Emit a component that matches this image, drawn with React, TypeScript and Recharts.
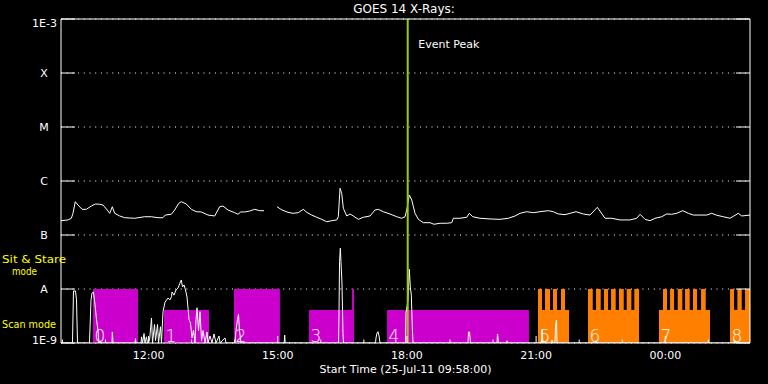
import React from 'react';
import { LineChart, Line, XAxis, YAxis, CartesianGrid, ReferenceArea, ReferenceLine, Label } from 'recharts';

// minutes since start time 25-Jul-11 09:58
const longTimes = [0, 9.8, 14.4, 16.7, 19.9, 23.7, 29.3, 35.3, 42.2, 47.8, 53.9, 58.5, 64.5, 67.9, 71.5, 74.8, 81.8, 88.8, 102.7, 116.6, 125.8, 135.2, 142.1, 145.3, 153.7, 158.4, 164, 167.6, 174.6, 181.6, 188.5, 195.5, 204.8, 214.2, 221.1, 225.7, 232.7, 242, 246.6, 250.4, 256, 262.9, 269.9, 276.9, 282.9, 290, 301, 307.9, 316.3, 323.3, 330.6, 337.6, 342.4, 349.3, 356.3, 363.3, 370.2, 377.2, 384.2, 386.4, 388.8, 391.1, 393.4, 398.1, 402.7, 407.3, 414.3, 421.2, 430.6, 437.5, 442.1, 449.1, 458.4, 467.8, 474.7, 479.3, 481.7, 485.3, 488.7, 493.3, 497.9, 504.8, 514.2, 519.7, 528.1, 537.4, 544.4, 546.6, 555.9, 565.3, 568.9, 573.7, 583.8, 597.8, 611.7, 623.3, 632.6, 639.6, 648.9, 658.1, 667.4, 679, 686, 693, 702.3, 709.2, 717.6, 727.8, 737.1, 747.3, 758, 767.3, 778.9, 792.8, 802.2, 806.8, 813.8, 820.7, 827.7, 837, 843.9, 850.9, 857.9, 866.3, 874.1, 881.1, 899.8, 906.7, 913.7, 922.8, 932.2, 943.7, 948.5, 960];
const longFlux = [1.84e-7, 1.9e-7, 2.04e-7, 2.52e-7, 4.14e-7, 3.59e-7, 2.99e-7, 2.99e-7, 3.44e-7, 3.75e-7, 3.71e-7, 3.59e-7, 2.9e-7, 2.52e-7, 3.34e-7, 2.52e-7, 2.25e-7, 2.09e-7, 2.04e-7, 2.18e-7, 2.18e-7, 2.09e-7, 2.09e-7, 2.34e-7, 2.42e-7, 2.9e-7, 3.86e-7, 4.14e-7, 3.75e-7, 2.99e-7, 2.7e-7, 2.67e-7, 2.34e-7, 2.25e-7, 3.34e-7, 3.44e-7, 2.9e-7, 2.59e-7, 2.42e-7, 2.67e-7, 2.67e-7, 2.78e-7, 2.99e-7, 2.82e-7, 2.82e-7, null, 3.34e-7, 2.9e-7, 2.63e-7, 2.52e-7, 2.59e-7, 2.99e-7, 2.63e-7, 2.34e-7, 2.13e-7, 1.95e-7, 1.76e-7, 1.84e-7, 1.9e-7, 2.18e-7, 7.33e-7, 5.91e-7, 3.12e-7, 2.25e-7, 2.45e-7, 2.25e-7, 1.95e-7, 2.13e-7, 2.25e-7, 2.9e-7, 2.99e-7, 2.7e-7, 2.45e-7, 2.18e-7, 2.04e-7, 2.18e-7, 2.9e-7, 5.51e-7, 4.45e-7, 2.52e-7, 1.95e-7, 1.69e-7, 1.69e-7, 1.58e-7, 1.65e-7, 1.65e-7, 1.69e-7, 2.04e-7, 2.04e-7, 2.13e-7, 2.52e-7, 2.18e-7, 2.04e-7, 1.98e-7, 1.95e-7, 2.04e-7, 2.25e-7, 2.52e-7, 2.7e-7, 2.59e-7, 2.7e-7, 2.82e-7, 2.7e-7, 2.45e-7, 2.38e-7, 2.52e-7, 2.7e-7, 2.45e-7, 2.34e-7, 3.26e-7, 2.04e-7, 2.04e-7, 1.9e-7, 1.9e-7, 2.04e-7, 2.42e-7, 1.95e-7, 1.84e-7, 2.04e-7, 2.18e-7, 2.45e-7, 2.42e-7, 2.52e-7, 2.82e-7, 2.52e-7, 2.34e-7, 2.34e-7, 2.52e-7, 2.32e-7, 2.18e-7, 2.04e-7, 2.52e-7, 2.25e-7, 2.34e-7];

const lowTimes = [0, 16, 17.4, 20.2, 21.6, 23, 39.7, 41.8, 43.2, 45.3, 47.4, 49.5, 51.6, 52.9, 54.3, 55.5, 71.1, 71.5, 72.5, 103.1, 103.8, 104.5, 111.5, 112.2, 113.6, 115.7, 117, 119.1, 120.5, 123.3, 126.1, 127.5, 130.3, 131.7, 134.5, 135.9, 138.6, 140, 142.1, 144.9, 149.1, 151.9, 154, 154.7, 157.5, 160.2, 163, 165.8, 167.6, 169.3, 171.4, 173.5, 175.6, 178.4, 180.4, 182.5, 184.6, 186.7, 188.1, 189.5, 191.6, 193.7, 195.8, 197.9, 200.7, 203.4, 204.8, 207.6, 210.4, 213.2, 216, 220.2, 221.6, 228.5, 229.9, 242.4, 243.8, 245.9, 247.3, 248.7, 250.8, 311, 311.7, 312.4, 386.7, 387.4, 388.1, 389.2, 390.1, 391.5, 392.9, 393.6, 438.2, 438.9, 440.3, 441.7, 443.1, 444.5, 480, 480.7, 483.5, 485.3, 486.7, 488.1, 489.5, 490.5, 567.1, 567.8, 569.2, 570.6, 607.5, 608.2, 609.6, 620.8, 621.5, 622.2, 669.5, 670.2, 671.6, 683.5, 684.2, 684.9, 688.3, 689, 690.4, 691.1, 744.8, 745.5, 746.2, 938.5, 939.2, 939.9, 960];
const lowFlux = [1e-9, 1e-9, 9.2e-9, 9.2e-9, 6.3e-9, 1e-9, 1e-9, 6.3e-9, 8.4e-9, 8.8e-9, 5.1e-9, 2.7e-9, 1.7e-9, 1e-9, 1.1e-9, 1e-9, 1e-9, 1.6e-9, 1e-9, 1e-9, 1.2e-9, 1e-9, 1e-9, 1.3e-9, 1e-9, 1.5e-9, 1e-9, 1.3e-9, 1e-9, 1.1e-9, 2.9e-9, 1e-9, 2.2e-9, 1.1e-9, 2.2e-9, 1e-9, 2e-9, 1e-9, 3.8e-9, 5.7e-9, 6.8e-9, 6.3e-9, 7.2e-9, 8.8e-9, 7.7e-9, 9.6e-9, 1.04e-8, 1.29e-8, 1.47e-8, 1.09e-8, 1.19e-8, 9.6e-9, 7.1e-9, 2.7e-9, 2.35e-9, 1.24e-9, 1.74e-9, 1e-9, 2.7e-9, 4.5e-9, 1.7e-9, 3.8e-9, 1.1e-9, 1.7e-9, 1e-9, 1.6e-9, 1e-9, 1.35e-9, 1e-9, 1.47e-9, 1e-9, 1.35e-9, 1e-9, 1.24e-9, 1e-9, 1e-9, 1.7e-9, 2.7e-9, 3.4e-9, 1.7e-9, 1e-9, 1e-9, 1.4e-9, 1e-9, 1e-9, 4.1e-9, 3.2e-8, 5.7e-8, 3.2e-8, 1.29e-8, 1.5e-9, 1e-9, 1e-9, 1.24e-9, 1.53e-9, 1.62e-9, 1.35e-9, 1e-9, 1e-9, 3.6e-9, 6.3e-9, 2.32e-8, 1.1e-8, 7.7e-9, 1.9e-9, 1e-9, 1e-9, 1.6e-9, 1.6e-9, 1e-9, 1e-9, 1.47e-9, 1e-9, 1e-9, 1.1e-9, 1e-9, 1e-9, 1.74e-9, 1e-9, 1e-9, 1.14e-9, 1e-9, 1e-9, 2.06e-9, 2.67e-9, 1e-9, 1e-9, 1.1e-9, 1e-9, 1e-9, 1.1e-9, 1e-9, 1e-9];

// observation blocks (minutes since start)
const blockIds = ['0', '1', '2', '3', '4', '5', '6', '7', '8'];
const blockStart = [44.6, 143.5, 241, 345.6, 454.3, 664.7, 734.3, 833.2, 932.2];
const blockEnd = [107.3, 206.2, 305, 408.3, 652, 707.9, 805.4, 904.3, 960];
const blockMode = ['stare', 'scan', 'stare', 'scan', 'scan', 'scan', 'scan', 'scan', 'scan'];
const blockInstr = ['a', 'a', 'a', 'a', 'a', 'b', 'b', 'b', 'b'];

// short sit & stare bursts inside scan blocks
const burstStart = [405.5, 664.6, 674.4, 685.5, 696.7, 734.3, 745.5, 756.6, 766.4, 777.5, 788.2, 798.8, 838.8, 848.6, 859.3, 869.5, 880.6, 891.8, 932.2, 942.4, 953.1];
const burstEnd = [408.3, 670.2, 681.4, 691.1, 702.3, 740.9, 752.0, 762.2, 772.9, 784.1, 794.7, 805.4, 844.4, 854.2, 865.7, 876.0, 886.2, 898.3, 937.8, 948.5, 960];
const burstInstr = ['a', 'b', 'b', 'b', 'b', 'b', 'b', 'b', 'b', 'b', 'b', 'b', 'b', 'b', 'b', 'b', 'b', 'b', 'b', 'b', 'b'];

const modeLevel: Record<string, number> = { scan: 4.1e-9, stare: 1e-8 };
const floorLevel = 1e-9;

const eventPeak = 483.1;

const levelTicks = [1e-9, 1e-8, 1e-7, 1e-6, 1e-5, 1e-4, 1e-3];
const levelNames = ['1E-9', 'A', 'B', 'C', 'M', 'X', '1E-3'];

const hourTicks = [2, 62, 122, 182, 242, 302, 362, 422, 482, 542, 602, 662, 722, 782, 842, 902];
const labelTicks = [122, 302, 482, 662, 842];
const labelText = ['12:00', '15:00', '18:00', '21:00', '00:00'];

const longData = longTimes.map((t, i) => ({ t, flux: longFlux[i] }));
const lowData = lowTimes.map((t, i) => ({ t, flux: lowFlux[i] }));

const WHITE = '#ffffff';
const instrColor: Record<string, string> = { a: '#cc00cc', b: '#ff8000' };

function LeftTick(props: any) {
  const { x, y, index } = props;
  const text = levelNames[index];
  const isNum = text.startsWith('1E');
  const dy = index === levelTicks.length - 1 ? 7.5 : index === 0 ? 1 : 4;
  return (
    <g>
      <line x1={x} x2={x + 14} y1={y} y2={y} stroke={WHITE} />
      <text x={isNum ? x - 4 : x - 17} y={y + dy} textAnchor={isNum ? 'end' : 'middle'} fill={WHITE} fontSize={11}>
        {text}
      </text>
    </g>
  );
}

function RightTick(props: any) {
  const { x, y } = props;
  return <line x1={x - 14} x2={x} y1={y} y2={y} stroke={WHITE} />;
}

function BottomTick(props: any) {
  const { x, y, payload } = props;
  const i = labelTicks.indexOf(payload.value);
  const len = i >= 0 ? 7 : 3.5;
  return (
    <g>
      <line x1={x} x2={x} y1={y} y2={y - len} stroke={WHITE} />
      {i >= 0 && (
        <text x={x} y={y + 16} textAnchor="middle" fill={WHITE} fontSize={11}>
          {labelText[i]}
        </text>
      )}
    </g>
  );
}

function TopTick(props: any) {
  const { x, y, payload } = props;
  const len = labelTicks.includes(payload.value) ? 7 : 3.5;
  return <line x1={x} x2={x} y1={y} y2={y + len} stroke={WHITE} />;
}

function PeakLabel(props: any) {
  const vb = props.viewBox || {};
  return (
    <text x={vb.x + 10.5} y={vb.y + 28.5} fill={WHITE} fontSize={11}>
      Event Peak
    </text>
  );
}

export default function App() {
  return (
    <div style={{ position: 'absolute', left: 0, top: 0, width: 768, height: 384, background: '#000', overflow: 'hidden' }}>
      <LineChart width={768} height={384} margin={{ top: 0, right: 0, bottom: 0, left: 0 }} style={{ fontFamily: 'DejaVu Sans' }}>
        <CartesianGrid vertical={false} stroke={WHITE} strokeDasharray="1 4.7" />
        <XAxis
          dataKey="t"
          type="number"
          domain={[0, 960]}
          allowDataOverflow
          ticks={hourTicks}
          interval={0}
          height={41}
          stroke={WHITE}
          tickLine={false}
          tickSize={0}
          tickMargin={0}
          tick={<BottomTick />}
        >
          <Label value="Start Time (25-Jul-11 09:58:00)" position="insideBottom" offset={11} fill={WHITE} fontSize={11} />
        </XAxis>
        <XAxis
          xAxisId="top"
          orientation="top"
          type="number"
          domain={[0, 960]}
          allowDataOverflow
          ticks={hourTicks}
          interval={0}
          height={19}
          stroke={WHITE}
          tickLine={false}
          tickSize={0}
          tickMargin={0}
          tick={<TopTick />}
        />
        <YAxis
          type="number"
          scale="log"
          domain={[1e-9, 1e-3]}
          allowDataOverflow
          ticks={levelTicks}
          interval={0}
          width={61}
          stroke={WHITE}
          tickLine={false}
          tickSize={0}
          tickMargin={0}
          tick={<LeftTick />}
        />
        <YAxis
          yAxisId="right"
          orientation="right"
          type="number"
          scale="log"
          domain={[1e-9, 1e-3]}
          allowDataOverflow
          ticks={levelTicks}
          interval={0}
          width={18}
          stroke={WHITE}
          tickLine={false}
          tickSize={0}
          tickMargin={0}
          tick={<RightTick />}
        />
        {burstStart.map((s, i) => (
          <ReferenceArea
            key={'b' + i}
            x1={s}
            x2={burstEnd[i]}
            y1={floorLevel}
            y2={modeLevel.stare}
            fill={instrColor[burstInstr[i]]}
            fillOpacity={1}
            stroke="none"
          />
        ))}
        {blockStart.map((s, i) => (
          <ReferenceArea
            key={'k' + i}
            x1={s}
            x2={blockEnd[i]}
            y1={floorLevel}
            y2={modeLevel[blockMode[i]]}
            fill={instrColor[blockInstr[i]]}
            fillOpacity={1}
            stroke="none"
            label={{ value: blockIds[i], position: 'insideBottomLeft', offset: 1.5, fill: WHITE, fontSize: 17, fontWeight: 200 }}
          />
        ))}
        <Line data={longData} dataKey="flux" stroke={WHITE} strokeWidth={1} dot={false} activeDot={false} isAnimationActive={false} />
        <Line data={lowData} dataKey="flux" stroke={WHITE} strokeWidth={1} dot={false} activeDot={false} isAnimationActive={false} />
        <ReferenceLine x={eventPeak} stroke="#99cc00" strokeWidth={2} label={<PeakLabel />} />
      </LineChart>
      <svg width={768} height={384} style={{ position: 'absolute', left: 0, top: 0, pointerEvents: 'none', fontFamily: 'DejaVu Sans' }}>
        <text x={404} y={13} textAnchor="middle" fill={WHITE} fontSize={12}>GOES 14 X-Rays:</text>
        <text x={2} y={263} fill="#ffff00" fontSize={11} textLength={64} lengthAdjust="spacingAndGlyphs">Sit &amp; Stare</text>
        <text x={12} y={275} fill="#ffff00" fontSize={11} textLength={25} lengthAdjust="spacingAndGlyphs">mode</text>
        <text x={2} y={328} fill="#ffff00" fontSize={11} textLength={54} lengthAdjust="spacingAndGlyphs">Scan mode</text>
      </svg>
    </div>
  );
}
